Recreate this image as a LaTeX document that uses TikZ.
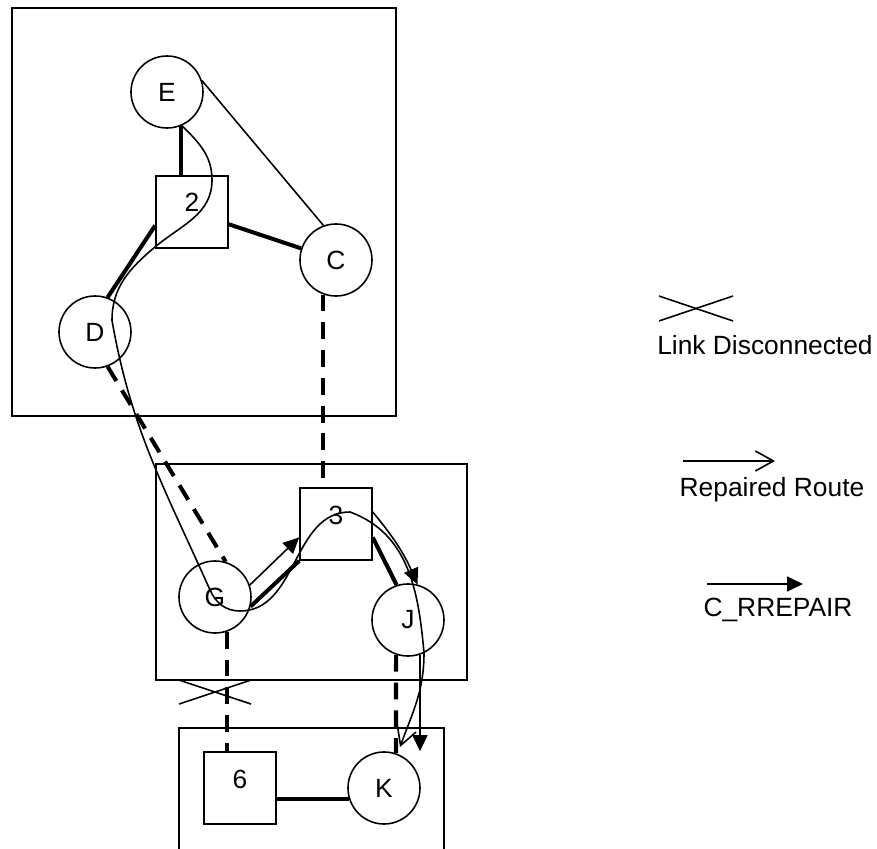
\documentclass[tikz,border=0pt]{standalone}
\usepackage{fontspec}
\setmainfont{Liberation Sans}
\usepackage{tikz}
\usetikzlibrary{arrows.meta, calc}
\tikzset{
  host/.style={circle, draw=black, line width=0.9pt,
               inner sep=0pt, minimum size=1.44cm, font=\fontsize{15pt}{18pt}\selectfont},
  router/.style={rectangle, draw=black, line width=0.9pt, inner sep=0pt,
               minimum size=1.44cm, text height=0.38cm, text depth=0.38cm,
               font=\fontsize{15pt}{18pt}\selectfont},
  zone/.style={line width=0.9pt},
  link/.style={line width=2.3pt},
  wlink/.style={line width=0.9pt},
  dlink/.style={line width=2.3pt, dash pattern=on 9.6pt off 6.2pt},
  cut/.style={line width=0.9pt},
  route/.style={line width=0.9pt, -{Straight Barb[length=0.36cm, width=0.4cm]}},
  rrep/.style={line width=0.9pt, -{Triangle[length=0.32cm, width=0.3cm]}},
  legtext/.style={font=\fontsize{15pt}{18pt}\selectfont, inner sep=0pt},
}
\begin{document}
\begin{tikzpicture}
    \useasboundingbox (0,0) rectangle (17.54,16.96);
    % Zones
    \draw[zone] (0.24,16.80) rectangle (7.92,8.64);
    \draw[zone] (3.12,7.68) rectangle (9.34,3.36);
    \draw[zone] (3.58,2.40) rectangle (8.88,-0.3);
    % Nodes
    \node[host] (E) at (3.34,15.12) {E};
    \node[router] (n2) at (3.84,12.72) {2};
    \node[host] (C) at (6.72,11.76) {C};
    \node[host] (D) at (1.90,10.32) {D};
    \node[router] (n3) at (6.72,6.48) {3};
    \node[host] (G) at (4.30,5.02) {G};
    \node[host] (J) at (8.16,4.56) {J};
    \node[router] (n6) at (4.80,1.20) {6};
    \node[host] (K) at (7.68,1.20) {K};
    % Links
    \draw[link] (E.-68) -- (E.-68 |- n2.north);
    \draw[link] (n2) -- (C);
    \draw[wlink] (E.18) -- (C.110);
    \draw[link] (n2.200) -- (D.70);
    \draw[dlink] (D.-70) -- (G.73);
    \draw[dlink] (C.-110) -- (C.-110 |- n3.north);
    \draw[link] (n3.south west) -- (G.-15);
    \draw[link] (n3.-20) -- (J.108);
    \draw[dlink] (G.-71) -- (G.-71 |- n6.north);
    \draw[dlink] (J.-109) -- (K.71);
    \draw[link] (K.198) -- (K.198 -| n6.east);
    % Broken link
    \draw[cut] (3.58,3.36) -- (5.02,2.88);
    \draw[cut] (3.58,2.88) -- (5.02,3.36);
    % C_RREPAIR
    \draw[rrep] (G.19) -- (n3.200);
    \draw[rrep] (n3.18) to[bend left=8] (J.75);
    \draw[rrep] (J.-71) -- (J.-71 |- K.north);
    % Repaired route
    \coordinate (kend) at (8.00,2.02);
    \draw[route] (E.-66) to[out=-45, in=90] (4.24,13.36)
      to[out=-90, in=40] (3.10,12.02)
      to[out=220, in=90] (2.24,10.55)
      to[out=-80, in=114] (4.20,5.16)
      to[out=-66, in=180] (4.80,4.74)
      to[out=0, in=180] (7.00,6.72)
      to[out=-20, in=95] (8.48,3.90)
      to[out=-90, in=70] (kend);
    % Legend
    \draw[cut] (13.18,11.04) -- (14.66,10.54);
    \draw[cut] (13.18,10.54) -- (14.66,11.04);
    \node[legtext] (lgcut) at (15.30,10.06) {Link Disconnected};
    \coordinate (rr1) at (13.66,7.74);
    \coordinate (rr2) at (15.50,7.74);
    \draw[route] (rr1) -- (rr2);
    \node[legtext] (lgroute) at (15.44,7.16) {Repaired Route};
    \coordinate (cr1) at (14.14,5.28);
    \coordinate (cr2) at (16.06,5.28);
    \draw[rrep] (cr1) -- (cr2);
    \node[legtext] (lgrrep) at (15.56,4.76) {C\_RREPAIR};
\end{tikzpicture}
\end{document}
